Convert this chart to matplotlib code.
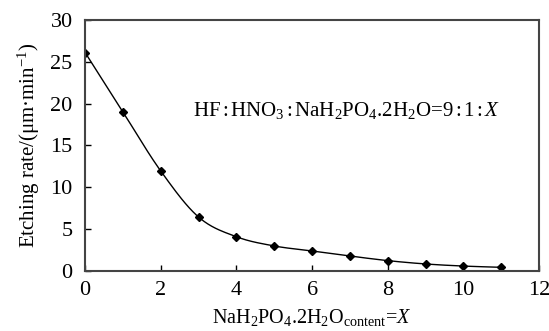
import numpy as np
import matplotlib
matplotlib.use("Agg")
import matplotlib.pyplot as plt

plt.rcParams['font.family'] = ['Liberation Serif', 'DejaVu Serif']
plt.rcParams['mathtext.fontset'] = 'custom'
plt.rcParams['mathtext.rm'] = 'Liberation Serif'
plt.rcParams['mathtext.it'] = 'Liberation Serif:italic'

content = [0, 1, 2, 3, 4, 5, 6, 7, 8, 9, 10, 11]
rate = [26.1, 19.0, 11.95, 6.45, 4.1, 3.0, 2.4, 1.8, 1.25, 0.85, 0.6, 0.45]

def catmull_rom(x, y, n=20):
    x = np.asarray(x, float); y = np.asarray(y, float)
    xs, ys = [], []
    px = np.concatenate([[2*x[0]-x[1]], x, [2*x[-1]-x[-2]]])
    py = np.concatenate([[2*y[0]-y[1]], y, [2*y[-1]-y[-2]]])
    for i in range(1, len(px)-2):
        t = np.linspace(0, 1, n, endpoint=False)
        p0, p1, p2, p3 = [np.array([px[j], py[j]]) for j in range(i-1, i+3)]
        pts = 0.5*((2*p1)[:, None] + (-p0+p2)[:, None]*t + (2*p0-5*p1+4*p2-p3)[:, None]*t**2 + (-p0+3*p1-3*p2+p3)[:, None]*t**3)
        xs.extend(pts[0]); ys.extend(pts[1])
    xs.append(x[-1]); ys.append(y[-1])
    return np.array(xs), np.array(ys)

fig = plt.figure(figsize=(5.49, 3.31), dpi=100)
ax = fig.add_axes([0.155, 0.181, 0.827, 0.759])
sx, sy = catmull_rom(content, rate)
ax.plot(sx, sy, color='black', lw=1.0)
ax.plot(content, rate, linestyle='none', marker='D', ms=3.8, color='black')

ax.set_xlim(0, 12)
ax.set_ylim(0, 30)
ax.set_xticks(range(0, 13, 2))
ax.set_yticks(range(0, 31, 5))
ax.tick_params(direction='in', length=4, width=1, labelsize=16, colors='black')
ax.tick_params(axis='x', pad=7)
ax.tick_params(axis='y', pad=9)
for s in ax.spines.values():
    s.set_linewidth(1.5)
    s.set_color('#444444')

ax.set_ylabel('Etching rate/(μm·min$^{-1}$)', fontsize=15, labelpad=6)
ax.set_xlabel(r'NaH$_2$PO$_4$.2H$_2$O$_{\mathrm{content}}$=$\mathit{X}$', fontsize=14.5, labelpad=5)
ax.text(0.238, 0.64, r'HF$\,$:$\,$HNO$_3$$\,$:$\,$NaH$_2$PO$_4$.2H$_2$O=9$\,$:$\,$1$\,$:$\,$$\mathit{X}$',
        transform=ax.transAxes, fontsize=15, va='center', ha='left')

fig.savefig('out.png', dpi=100)
